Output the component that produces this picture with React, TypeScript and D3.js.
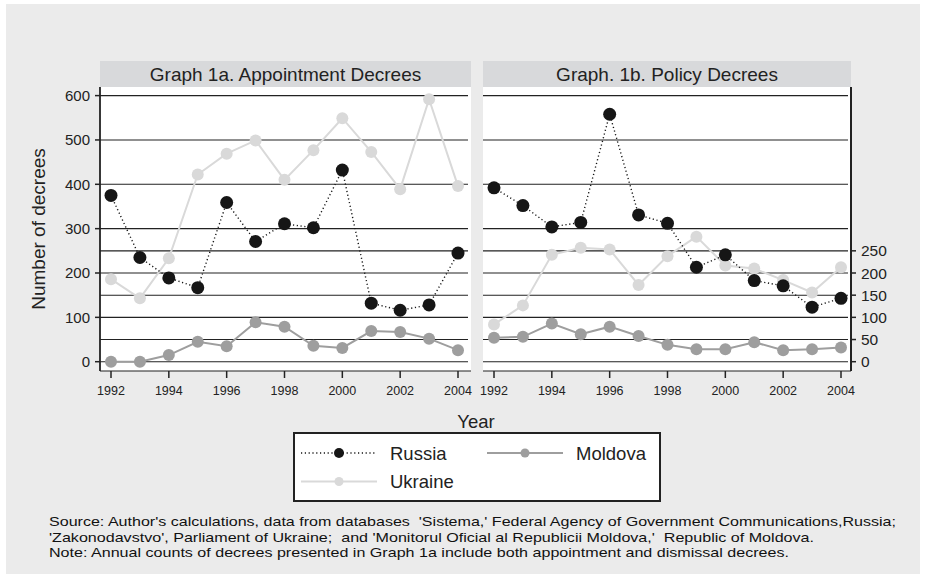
import React from "react";
import * as d3 from "d3";

const years = [1992, 1993, 1994, 1995, 1996, 1997, 1998, 1999, 2000, 2001, 2002, 2003, 2004];

// Graph 1a: appointment decrees
const russiaAppt = [375, 235, 189, 167, 359, 271, 311, 302, 432, 132, 116, 128, 245];
const ukraineAppt = [186, 143, 233, 422, 469, 499, 410, 477, 549, 473, 389, 592, 396];
const moldovaAppt = [0, 0, 15, 45, 35, 89, 79, 36, 31, 69, 67, 52, 26];

// Graph 1b: policy decrees
const russiaPolicy = [392, 352, 304, 314, 558, 331, 312, 213, 241, 183, 171, 123, 143];
const ukrainePolicy = [84, 127, 241, 257, 253, 173, 238, 282, 217, 210, 184, 156, 213];
const moldovaPolicy = [54, 56, 86, 62, 79, 58, 38, 28, 28, 44, 26, 28, 32];

const leftTicks = [0, 100, 200, 300, 400, 500, 600];
const rightTicks = [0, 50, 100, 150, 200, 250];
const xTicks = [1992, 1994, 1996, 1998, 2000, 2002, 2004];

const FONT = "'Liberation Sans', Arial, Helvetica, sans-serif";

const COL = {
  russia: "#161616",
  ukraine: "#d9d9d9",
  moldova: "#9e9e9e",
  bg: "#ebebeb",
  strip: "#d8d9db",
};

const top = 87;
const bottom = 371;
const y = d3.scaleLinear().domain([0, 600]).range([361.7, 95.6]);

type Panel = {
  title: string;
  x0: number;
  x1: number;
  range: [number, number];
  russia: number[];
  ukraine: number[];
  moldova: number[];
};

const panels: Panel[] = [
  { title: "Graph 1a. Appointment Decrees", x0: 100, x1: 471, range: [111, 458], russia: russiaAppt, ukraine: ukraineAppt, moldova: moldovaAppt },
  { title: "Graph. 1b. Policy Decrees", x0: 483, x1: 851, range: [494, 841], russia: russiaPolicy, ukraine: ukrainePolicy, moldova: moldovaPolicy },
];

const gridVals = Array.from(new Set([...leftTicks, ...rightTicks]));

function PanelView({ p, idx }: { p: Panel; idx: number }) {
  const x = d3.scaleLinear().domain([1992, 2004]).range(p.range);
  const line = d3
    .line<number>()
    .x((_, i) => x(years[i]))
    .y((d) => y(d));
  const series = [
    { vals: p.ukraine, color: COL.ukraine, dash: undefined as string | undefined, r: 6 },
    { vals: p.moldova, color: COL.moldova, dash: undefined, r: 6 },
    { vals: p.russia, color: COL.russia, dash: "1.2 2.6", r: 6.5 },
  ];
  return (
    <g>
      <rect x={p.x0} y={61} width={p.x1 - p.x0} height={26} fill={COL.strip} />
      <text x={(p.x0 + p.x1) / 2} y={80.5} textAnchor="middle" fontSize={19} fill="#222">
        {p.title}
      </text>
      <rect x={p.x0} y={top} width={p.x1 - p.x0} height={bottom - top} fill="#fff" />
      {gridVals.map((v) => (
        <line key={v} x1={p.x0} x2={p.x1 - 3} y1={y(v)} y2={y(v)} stroke="#222" strokeWidth={1.1} />
      ))}
      {series.map((s, si) => (
        <g key={si}>
          <path d={line(s.vals) || ""} fill="none" stroke={s.color} strokeWidth={s.dash ? 1.4 : 2} strokeDasharray={s.dash} />
          {s.vals.map((v, i) => (
            <circle key={i} cx={x(years[i])} cy={y(v)} r={s.r} fill={s.color} />
          ))}
        </g>
      ))}
      {/* x axis */}
      <line x1={p.x0} x2={p.x1} y1={bottom} y2={bottom} stroke="#222" strokeWidth={1.2} />
      {xTicks.map((t) => (
        <g key={t}>
          <line x1={x(t)} x2={x(t)} y1={bottom} y2={bottom + 7} stroke="#222" strokeWidth={1.5} />
          <text x={x(t)} y={395} textAnchor="middle" fontSize={12.5} fill="#222">
            {t}
          </text>
        </g>
      ))}
      {idx === 0 && (
        <g>
          <line x1={p.x0} x2={p.x0} y1={top} y2={bottom} stroke="#222" strokeWidth={1.8} />
          {leftTicks.map((t) => (
            <g key={t}>
              <line x1={p.x0 - 5} x2={p.x0} y1={y(t)} y2={y(t)} stroke="#222" strokeWidth={1.5} />
              <text x={p.x0 - 10} y={y(t) + 5.3} textAnchor="end" fontSize={15} fill="#222">
                {t}
              </text>
            </g>
          ))}
        </g>
      )}
      {idx === 1 && (
        <g>
          <line x1={p.x1} x2={p.x1} y1={top} y2={bottom} stroke="#222" strokeWidth={2} />
          {rightTicks.map((t) => (
            <g key={t}>
              <line x1={p.x1} x2={p.x1 + 5} y1={y(t)} y2={y(t)} stroke="#222" strokeWidth={1.5} />
              <text x={p.x1 + 10} y={y(t) + 5.5} textAnchor="start" fontSize={15.5} fill="#222">
                {t}
              </text>
            </g>
          ))}
        </g>
      )}
    </g>
  );
}

const legendItems = [
  { label: "Russia", color: COL.russia, dash: "1.2 2.6", r: 5, lx: 301, ly: 453 },
  { label: "Moldova", color: COL.moldova, dash: undefined as string | undefined, r: 4.5, lx: 487, ly: 453 },
  { label: "Ukraine", color: COL.ukraine, dash: undefined, r: 4.5, lx: 301, ly: 481.5 },
];

const footer = [
  { text: "Source: Author's calculations, data from databases  'Sistema,' Federal Agency of Government Communications,Russia;", w: 847 },
  { text: "'Zakonodavstvo', Parliament of Ukraine;  and 'Monitorul Oficial al Republicii Moldova,'  Republic of Moldova.", w: 765 },
  { text: "Note: Annual counts of decrees presented in Graph 1a include both appointment and dismissal decrees.", w: 740 },
];

export default function App() {
  return (
    <svg
      width={926}
      height={579}
      style={{ position: "absolute", left: 0, top: 0, fontFamily: FONT }}
    >
      <rect x={0} y={0} width={926} height={579} fill="#fff" />
      <rect x={6} y={4} width={914} height={570} fill={COL.bg} />
      {panels.map((p, i) => (
        <PanelView key={i} p={p} idx={i} />
      ))}
      <text transform="translate(45,229) rotate(-90)" textAnchor="middle" fontSize={19} fill="#222">
        Number of decrees
      </text>
      <text x={476} y={428} textAnchor="middle" fontSize={18.5} fill="#222">
        Year
      </text>
      <rect x={294} y={433} width={366} height={68} fill="#fff" stroke="#222" strokeWidth={2} />
      {legendItems.map((it) => (
        <g key={it.label}>
          <line x1={it.lx} x2={it.lx + 76} y1={it.ly} y2={it.ly} stroke={it.color} strokeWidth={it.dash ? 1.4 : 2} strokeDasharray={it.dash} />
          <circle cx={it.lx + 38} cy={it.ly} r={it.r} fill={it.color} />
          <text x={it.lx + 89} y={it.ly + 6.5} fontSize={18.5} fill="#222">
            {it.label}
          </text>
        </g>
      ))}
      {footer.map((f, i) => (
        <text
          key={i}
          x={49}
          y={526 + i * 15.5}
          fontSize={13.5}
          fill="#111"
          textLength={f.w}
          lengthAdjust="spacingAndGlyphs"
          style={{ whiteSpace: "pre" }}
        >
          {f.text}
        </text>
      ))}
    </svg>
  );
}
